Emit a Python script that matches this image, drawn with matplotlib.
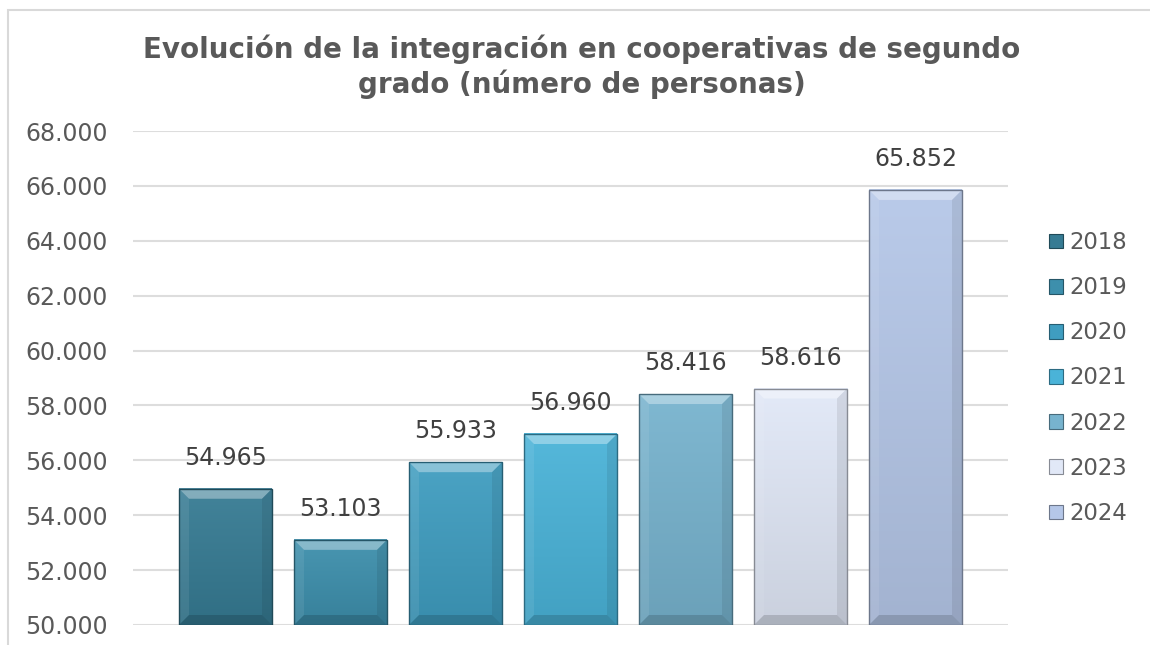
import numpy as np
import matplotlib
matplotlib.use('Agg')
import matplotlib.pyplot as plt
from matplotlib.patches import Polygon, Rectangle, Patch
from matplotlib.colors import to_rgb

# data
years = ['2018', '2019', '2020', '2021', '2022', '2023', '2024']
personas = [54965, 53103, 55933, 56960, 58416, 58616, 65852]
labels = ['54.965', '53.103', '55.933', '56.960', '58.416', '58.616', '65.852']
colores = ['#367B93', '#3D8FAC', '#3F9DC0', '#4AB3D8', '#77B3CE', '#E1E8F7', '#B5C7E8']
yticks = [50000, 52000, 54000, 56000, 58000, 60000, 62000, 64000, 66000, 68000]
ytick_labels = ['50.000', '52.000', '54.000', '56.000', '58.000', '60.000',
                '62.000', '64.000', '66.000', '68.000']

plt.rcParams['font.family'] = ['DejaVu Sans']
gris = '#595959'

fig = plt.figure(figsize=(11.5, 6.45), dpi=100)
ax = fig.add_axes([133/1150, 1-625/645, (1008-133)/1150, (625-131)/645])

x = np.arange(len(years))
bars = ax.bar(x, personas, width=93/115, bottom=0, color=colores, zorder=2)

ymin, ymax = 50000, 68000
dx = 10/115
dy = 10 * (ymax-ymin)/494

def mezcla(c, otro, f):
    c = np.array(to_rgb(c)); o = np.array(to_rgb(otro))
    return tuple(c*(1-f) + o*f)

for b, c in zip(bars, colores):
    x0 = b.get_x(); x1 = x0 + b.get_width()
    y0 = ymin; y1 = b.get_height()
    b.set_visible(False)
    # vertical gradient
    top = np.array(mezcla(c, 'white', 0.06))
    bot = np.array(mezcla(c, 'black', 0.10))
    t = np.linspace(0, 1, 64)[:, None]
    grad = (top*(1-t) + bot*t)[:, None, :]
    ax.imshow(grad, extent=[x0, x1, y0, y1], aspect='auto', zorder=3,
              interpolation='bilinear', origin='upper')
    # bevels
    ax.add_patch(Polygon([(x0, y1), (x1, y1), (x1-dx, y1-dy), (x0+dx, y1-dy)],
                         facecolor='white', alpha=0.35, lw=0, zorder=4))
    ax.add_patch(Polygon([(x0, y0), (x0, y1), (x0+dx, y1-dy), (x0+dx, y0+dy)],
                         facecolor='white', alpha=0.08, lw=0, zorder=4))
    ax.add_patch(Polygon([(x1, y0), (x1, y1), (x1-dx, y1-dy), (x1-dx, y0+dy)],
                         facecolor='black', alpha=0.08, lw=0, zorder=4))
    ax.add_patch(Polygon([(x0, y0), (x1, y0), (x1-dx, y0+dy), (x0+dx, y0+dy)],
                         facecolor='black', alpha=0.15, lw=0, zorder=4))
    ax.add_patch(Rectangle((x0, y0), x1-x0, y1-y0, fill=False,
                           edgecolor=mezcla(c, 'black', 0.4), lw=1.0, zorder=5))

for xi, v, lab in zip(x, personas, labels):
    ax.annotate(lab, (xi, v), xytext=(0, 24), textcoords='offset pixels',
                ha='center', va='baseline', fontsize=17, color='#404040', zorder=6)

ax.set_xlim(-(225.5-133)/115, 6 + (1008-915.5)/115)
ax.set_ylim(ymin, ymax)
ax.set_yticks(yticks)
ax.set_yticklabels(ytick_labels)
ax.set_xticks([])
ax.tick_params(axis='y', length=0, pad=18, labelsize=17, labelcolor=gris)
ax.yaxis.grid(True, color='#DDDDDD', lw=1.5, zorder=0)
ax.set_axisbelow(True)
for s in ax.spines.values():
    s.set_visible(False)

fig.text(582/1150, 1-67/645, 'Evolución de la integración en cooperativas de segundo\ngrado (número de personas)',
         ha='center', va='center', fontsize=20, fontweight='bold', color=gris,
         linespacing=1.25)

handles = [Patch(facecolor=c, edgecolor=mezcla(c, 'black', 0.4), lw=0.8) for c in colores]
fig.legend(handles, years, loc='center left', bbox_to_anchor=(1040/1150, 1-378/645),
           frameon=False, fontsize=16.4, labelcolor=gris, handlelength=0.6,
           handleheight=0.6, handletextpad=0.3, labelspacing=0.97, borderaxespad=0)

# outer chart border
fig.patches.append(Rectangle((8/1150, -0.2), 1.5, 1.2 - 10/645, transform=fig.transFigure,
                             fill=False, edgecolor='#D9D9D9', lw=1.5))

fig.savefig('out.png', dpi=100)
